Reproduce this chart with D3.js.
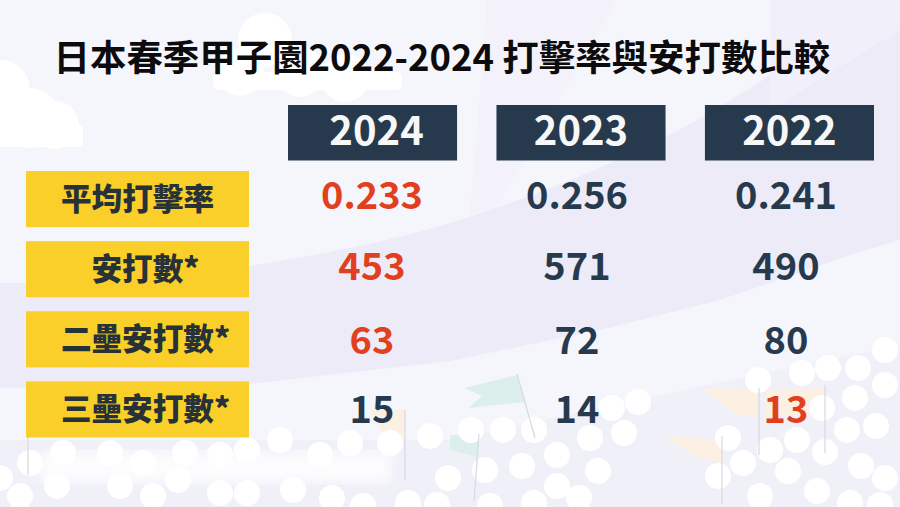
<!DOCTYPE html>
<html>
<head>
<meta charset="utf-8">
<script src="https://cdn.jsdelivr.net/npm/d3@7"></script>
<style>
    html, body { margin: 0; padding: 0; background: #f5f5fc; overflow: hidden; }
    svg { display: block; }
    text { font-family: "Noto Sans CJK TC", "Noto Sans", sans-serif; font-weight: 700; }
</style>
</head>
<body>
<script>
var title = "日本春季甲子園2022-2024 打擊率與安打數比較";
var years = ["2024", "2023", "2022"];
var rowLabels = ["平均打擊率", "安打數*", "二壘安打數*", "三壘安打數*"];

// one list per year, same order as rowLabels. strings so 0.233 keeps its format
var values2024 = ["0.233", "453", "63", "15"];
var values2023 = ["0.256", "571", "72", "14"];
var values2022 = ["0.241", "490", "80", "13"];
// row that gets the red colour in each year (the lowest value)
var lowest2024 = [0, 1, 2];
var lowest2023 = [];
var lowest2022 = [3];

var w = 900;
var h = 507;
var navy = "#273a4d";
var red = "#e23f1e";
var yellow = "#fbcf29";

var svg = d3.select("body").append("svg")
    .attr("width", w)
    .attr("height", h);

// background decoration
var bg = svg.append("g");
bg.append("rect").attr("width", w).attr("height", h).attr("fill", "#f5f5fc");

// big lavender stand, curved lower and upper edge
var curve = d3.line().curve(d3.curveCatmullRom);
var standTop = [[0, 283], [120, 280], [250, 266], [450, 223], [673, 133], [883, 0]];
var standBottom = [[900, 240], [860, 252], [720, 300], [600, 330], [450, 361], [250, 384], [0, 388]];
bg.append("path")
    .attr("d", "M0,283L" + [[250, 266], [300, 0], [900, 0], [900, 240]].join("L") + "L" + standBottom.join("L") + "Z")
    .attr("fill", "#ecebf7");
bg.append("path")
    .attr("d", curve(standBottom) + "L0,507L900,507Z")
    .attr("fill", "#f5f5fc");
bg.append("path")
    .attr("d", curve(standTop) + "L300,0L0,0Z")
    .attr("fill", "#f5f5fc");
// lighter beams at the top
bg.append("path").attr("d", "M497,207L617,0L487,0L470,215Z").attr("fill", "#f3f2fb");
bg.append("path").attr("d", "M770,0L900,0L900,30L770,110Z").attr("fill", "#f1f0fa");

// clouds
var cloudBumps = [[265, 40, 27], [300, 72, 25], [345, 78, 24], [240, 72, 24], [0, 90, 30], [30, 118, 30], [55, 125, 24]];
bg.selectAll("circle.cloud").data(cloudBumps).enter().append("circle")
    .attr("class", "cloud")
    .attr("cx", function(d) { return d[0]; })
    .attr("cy", function(d) { return d[1]; })
    .attr("r", function(d) { return d[2]; })
    .attr("fill", "#fff");
bg.append("rect").attr("x", 213).attr("y", 72).attr("width", 189).attr("height", 18).attr("fill", "#fff").attr("rx", 6);
bg.append("rect").attr("x", 0).attr("y", 125).attr("width", 83).attr("height", 22).attr("fill", "#fff");
bg.append("rect").attr("x", 0).attr("y", 90).attr("width", 30).attr("height", 40).attr("fill", "#fff");

// crowd backdrop
bg.append("path")
    .attr("d", "M0,440L450,440L660,395L900,345L900,507L0,507Z")
    .attr("fill", "#f0f0f9");

var flagPaths = [
    ["M464,388L517,375L525,402L468,408L482,396Z", "#dcefec"],
    ["M450,435L479,435L477,457L450,450Z", "#dcefec"],
    ["M703,388L759,390L758,417L735,414Z", "#fbf0e2"],
    ["M825,388L766,390L766,417L820,415Z", "#fbf0e2"],
    ["M664,436L722,440L722,463L695,456Z", "#fbf0e2"],
    ["M370,410L404,410L404,440L385,436Z", "#fbf0e2"]
];
bg.selectAll("path.flag").data(flagPaths).enter().append("path")
    .attr("class", "flag")
    .attr("d", function(d) { return d[0]; })
    .attr("fill", function(d) { return d[1]; });

var crowd = [
    [885,350],[858,368],[828,368],[802,373],[758,380],[885,385],[855,398],[822,408],[876,426],[847,430],
    [797,440],[825,452],[770,450],[743,463],[728,438],[861,466],[885,478],[788,471],[760,496],
    [817,491],[850,503],[880,505],[718,476],[638,402],[612,408],[624,433],[590,438],
    [534,430],[503,430],[471,430],[557,455],[522,466],[598,471],[485,470],[557,486],[579,498],[534,503],
    [490,506],[448,478],
    [430,436],[390,443],[350,443],[320,455],[280,440],[247,450],[220,455],[185,453],[143,463],
    [110,453],[63,453],[30,463],[0,478],[20,496],[57,486],[120,486],[153,496],
    [178,480],[220,493],[247,493],[293,490],[332,498],[363,506],[408,503],[437,505]
];
bg.selectAll("circle.crowd").data(crowd).enter().append("circle")
    .attr("class", "crowd")
    .attr("cx", function(d) { return d[0]; })
    .attr("cy", function(d) { return d[1]; })
    .attr("r", 13)
    .attr("fill", "#fff");

// soft white haze over the left part of the crowd
var soft = svg.append("defs").append("filter").attr("id", "soft");
soft.append("feGaussianBlur").attr("stdDeviation", 6);
bg.append("rect")
    .attr("x", 40).attr("y", 452).attr("width", 350).attr("height", 30)
    .attr("fill", "#fff")
    .attr("opacity", 0.85)
    .attr("filter", "url(#soft)");

var poles = [
    [517, 374, 535, 438], [479, 434, 474, 502], [759, 388, 759, 455], [825, 385, 825, 453],
    [722, 436, 722, 504], [405, 410, 405, 480], [28, 437, 28, 475]
];
bg.selectAll("line.pole").data(poles).enter().append("line")
    .attr("class", "pole")
    .attr("x1", function(d) { return d[0]; })
    .attr("y1", function(d) { return d[1]; })
    .attr("x2", function(d) { return d[2]; })
    .attr("y2", function(d) { return d[3]; })
    .attr("stroke", "#d8d8de")
    .attr("stroke-width", 1.2);

// scales
var headerX = d3.scaleBand().domain(years).range([288, 874]).paddingInner(0.189);
var rowY = d3.scaleBand().domain(rowLabels).range([171, 437.5]).paddingInner(0.2);
// value text does not sit centred under the headers in the original
var valueX = d3.scaleOrdinal().domain(years).range([372, 577, 786]);
var valueY = d3.scaleOrdinal().domain(rowLabels).range([195, 266, 340, 409]);

svg.append("text")
    .attr("x", 53.5)
    .attr("y", 71)
    .attr("font-size", 36.45)
    .attr("fill", "#0c0c0e")
    .text(title);

// header boxes
svg.selectAll("rect.header").data(years).enter().append("rect")
    .attr("class", "header")
    .attr("x", function(d) { return headerX(d); })
    .attr("y", 105)
    .attr("width", headerX.bandwidth())
    .attr("height", 55.5)
    .attr("fill", navy);
svg.selectAll("text.header").data(years).enter().append("text")
    .attr("class", "header")
    .attr("x", function(d, i) { return headerX(d) + headerX.bandwidth() / 2 + (i === 0 ? 4 : 0); })
    .attr("y", 131)
    .attr("dy", "0.36em")
    .attr("text-anchor", "middle")
    .attr("font-size", 40)
    .attr("fill", "#f7f7f7")
    .text(function(d) { return d; });

// row labels
svg.selectAll("rect.label").data(rowLabels).enter().append("rect")
    .attr("class", "label")
    .attr("x", 26)
    .attr("y", function(d) { return rowY(d); })
    .attr("width", 223)
    .attr("height", rowY.bandwidth())
    .attr("fill", yellow);
svg.selectAll("text.label").data(rowLabels).enter().append("text")
    .attr("class", "label")
    .attr("x", function(d, i) { return i === 0 ? 137.5 : 145.5; })
    .attr("y", function(d) { return rowY(d) + rowY.bandwidth() / 2; })
    .attr("dy", "0.36em")
    .attr("text-anchor", "middle")
    .attr("font-size", 30.6)
    .style("font-weight", 900)
    .attr("fill", "#263238")
    .text(function(d) { return d; });

// value cells
var columns = [
    { year: "2024", values: values2024, lowest: lowest2024 },
    { year: "2023", values: values2023, lowest: lowest2023 },
    { year: "2022", values: values2022, lowest: lowest2022 }
];
svg.selectAll("g.col").data(columns).enter().append("g")
    .attr("class", "col")
    .each(function(col) {
        d3.select(this).selectAll("text").data(col.values).enter().append("text")
            .attr("x", valueX(col.year))
            .attr("y", function(d, i) { return valueY(rowLabels[i]); })
            .attr("dy", "0.36em")
            .attr("text-anchor", "middle")
            .attr("font-size", 38)
            .style("font-weight", 600)
            .attr("fill", function(d, i) { return col.lowest.indexOf(i) >= 0 ? red : navy; })
            .text(function(d) { return d; });
    });
</script>
</body>
</html>
